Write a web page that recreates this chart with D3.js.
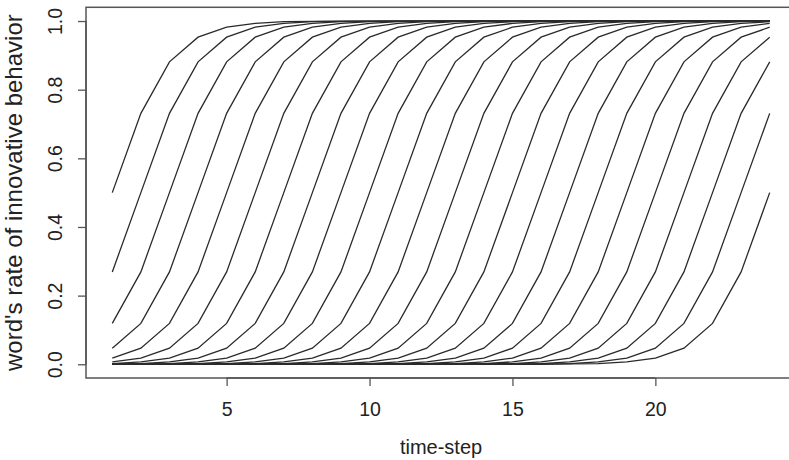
<!DOCTYPE html>
<html><head><meta charset="utf-8">
<script src="https://cdn.jsdelivr.net/npm/d3@7"></script>
<style>html,body{margin:0;padding:0;background:#fff;overflow:hidden}</style>
</head><body>
<svg id="chart" width="789" height="460"></svg>
<script>
const timeSteps = [1,2,3,4,5,6,7,8,9,10,11,12,13,14,15,16,17,18,19,20,21,22,23,24];
const xTicks = [5,10,15,20];
const yTicks = [0,0.2,0.4,0.6,0.8,1.0];
const xLabel = "time-step";
const yLabel = "word's rate of innovative behavior";
// one row per word (curve), value at each time-step
const s01 = [0.5,0.731,0.881,0.953,0.982,0.993,0.998,0.999,1,1,1,1,1,1,1,1,1,1,1,1,1,1,1,1];
const s02 = [0.269,0.5,0.731,0.881,0.953,0.982,0.993,0.998,0.999,1,1,1,1,1,1,1,1,1,1,1,1,1,1,1];
const s03 = [0.119,0.269,0.5,0.731,0.881,0.953,0.982,0.993,0.998,0.999,1,1,1,1,1,1,1,1,1,1,1,1,1,1];
const s04 = [0.047,0.119,0.269,0.5,0.731,0.881,0.953,0.982,0.993,0.998,0.999,1,1,1,1,1,1,1,1,1,1,1,1,1];
const s05 = [0.018,0.047,0.119,0.269,0.5,0.731,0.881,0.953,0.982,0.993,0.998,0.999,1,1,1,1,1,1,1,1,1,1,1,1];
const s06 = [0.007,0.018,0.047,0.119,0.269,0.5,0.731,0.881,0.953,0.982,0.993,0.998,0.999,1,1,1,1,1,1,1,1,1,1,1];
const s07 = [0.002,0.007,0.018,0.047,0.119,0.269,0.5,0.731,0.881,0.953,0.982,0.993,0.998,0.999,1,1,1,1,1,1,1,1,1,1];
const s08 = [0.001,0.002,0.007,0.018,0.047,0.119,0.269,0.5,0.731,0.881,0.953,0.982,0.993,0.998,0.999,1,1,1,1,1,1,1,1,1];
const s09 = [0,0.001,0.002,0.007,0.018,0.047,0.119,0.269,0.5,0.731,0.881,0.953,0.982,0.993,0.998,0.999,1,1,1,1,1,1,1,1];
const s10 = [0,0,0.001,0.002,0.007,0.018,0.047,0.119,0.269,0.5,0.731,0.881,0.953,0.982,0.993,0.998,0.999,1,1,1,1,1,1,1];
const s11 = [0,0,0,0.001,0.002,0.007,0.018,0.047,0.119,0.269,0.5,0.731,0.881,0.953,0.982,0.993,0.998,0.999,1,1,1,1,1,1];
const s12 = [0,0,0,0,0.001,0.002,0.007,0.018,0.047,0.119,0.269,0.5,0.731,0.881,0.953,0.982,0.993,0.998,0.999,1,1,1,1,1];
const s13 = [0,0,0,0,0,0.001,0.002,0.007,0.018,0.047,0.119,0.269,0.5,0.731,0.881,0.953,0.982,0.993,0.998,0.999,1,1,1,1];
const s14 = [0,0,0,0,0,0,0.001,0.002,0.007,0.018,0.047,0.119,0.269,0.5,0.731,0.881,0.953,0.982,0.993,0.998,0.999,1,1,1];
const s15 = [0,0,0,0,0,0,0,0.001,0.002,0.007,0.018,0.047,0.119,0.269,0.5,0.731,0.881,0.953,0.982,0.993,0.998,0.999,1,1];
const s16 = [0,0,0,0,0,0,0,0,0.001,0.002,0.007,0.018,0.047,0.119,0.269,0.5,0.731,0.881,0.953,0.982,0.993,0.998,0.999,1];
const s17 = [0,0,0,0,0,0,0,0,0,0.001,0.002,0.007,0.018,0.047,0.119,0.269,0.5,0.731,0.881,0.953,0.982,0.993,0.998,0.999];
const s18 = [0,0,0,0,0,0,0,0,0,0,0.001,0.002,0.007,0.018,0.047,0.119,0.269,0.5,0.731,0.881,0.953,0.982,0.993,0.998];
const s19 = [0,0,0,0,0,0,0,0,0,0,0,0.001,0.002,0.007,0.018,0.047,0.119,0.269,0.5,0.731,0.881,0.953,0.982,0.993];
const s20 = [0,0,0,0,0,0,0,0,0,0,0,0,0.001,0.002,0.007,0.018,0.047,0.119,0.269,0.5,0.731,0.881,0.953,0.982];
const s21 = [0,0,0,0,0,0,0,0,0,0,0,0,0,0.001,0.002,0.007,0.018,0.047,0.119,0.269,0.5,0.731,0.881,0.953];
const s22 = [0,0,0,0,0,0,0,0,0,0,0,0,0,0,0.001,0.002,0.007,0.018,0.047,0.119,0.269,0.5,0.731,0.881];
const s23 = [0,0,0,0,0,0,0,0,0,0,0,0,0,0,0,0.001,0.002,0.007,0.018,0.047,0.119,0.269,0.5,0.731];
const s24 = [0,0,0,0,0,0,0,0,0,0,0,0,0,0,0,0,0.001,0.002,0.007,0.018,0.047,0.119,0.269,0.5];
const seriesList = [s01,s02,s03,s04,s05,s06,s07,s08,s09,s10,s11,s12,s13,s14,s15,s16,s17,s18,s19,s20,s21,s22,s23,s24];

const svg = d3.select("#chart");
const L = 86, R = 796, T = 7.3, B = 378;
const xMin = d3.min(timeSteps), xMax = d3.max(timeSteps);
const xPad = (xMax - xMin) * 0.04;
const x = d3.scaleLinear().domain([xMin - xPad, xMax + xPad]).range([L, R]);
const y = d3.scaleLinear().domain([-0.04, 1.04]).range([B, T]);
const font = "'Liberation Sans', Arial, Helvetica, sans-serif";

const line = d3.line().x((d,i) => x(timeSteps[i])).y(d => y(d));
svg.append("g").selectAll("path").data(seriesList).join("path")
  .attr("d", line).attr("fill","none").attr("stroke","#2a2a2a").attr("stroke-width",1.3);

// box
svg.append("rect").attr("x",L).attr("y",T).attr("width",R-L).attr("height",B-T)
  .attr("fill","none").attr("stroke","#555").attr("stroke-width",1.5);

// x axis
const xAxis = d3.axisBottom(x).tickValues(xTicks).tickSize(8).tickFormat(d3.format("d"));
const gx = svg.append("g").attr("transform",`translate(0,${B})`).call(xAxis);
gx.select(".domain").attr("d", `M${x(xTicks[0])},0H${x(xTicks[xTicks.length-1])}`).attr("stroke","#555").attr("stroke-width",1.5);
gx.selectAll(".tick line").attr("stroke","#555").attr("stroke-width",1.3);
gx.selectAll(".tick text").attr("y",38).attr("dy",null).attr("font-size",19.5).attr("font-family",font).attr("fill","#222");

// y axis
const yAxis = d3.axisLeft(y).tickValues(yTicks).tickSize(8).tickFormat(d3.format(".1f"));
const gy = svg.append("g").attr("transform",`translate(${L},0)`).call(yAxis);
gy.select(".domain").attr("d", `M0,${y(yTicks[0])}V${y(yTicks[yTicks.length-1])}`).attr("stroke","#555").attr("stroke-width",1.5);
gy.selectAll(".tick line").attr("stroke","#555").attr("stroke-width",1.3);
gy.selectAll(".tick text").attr("x",null).attr("dy",null)
  .attr("transform","translate(-24,0) rotate(-90)").attr("text-anchor","middle")
  .attr("font-size",19.5).attr("font-family",font).attr("fill","#222");

// labels
svg.append("text").attr("x",(L+R)/2).attr("y",454).attr("text-anchor","middle")
  .attr("font-size",20).attr("font-family",font).attr("fill","#222").text(xLabel);
svg.append("text").attr("transform",`translate(22,${(T+B)/2}) rotate(-90)`).attr("text-anchor","middle")
  .attr("font-size",24).attr("font-family",font).attr("fill","#222").text(yLabel);
</script>
</body></html>
